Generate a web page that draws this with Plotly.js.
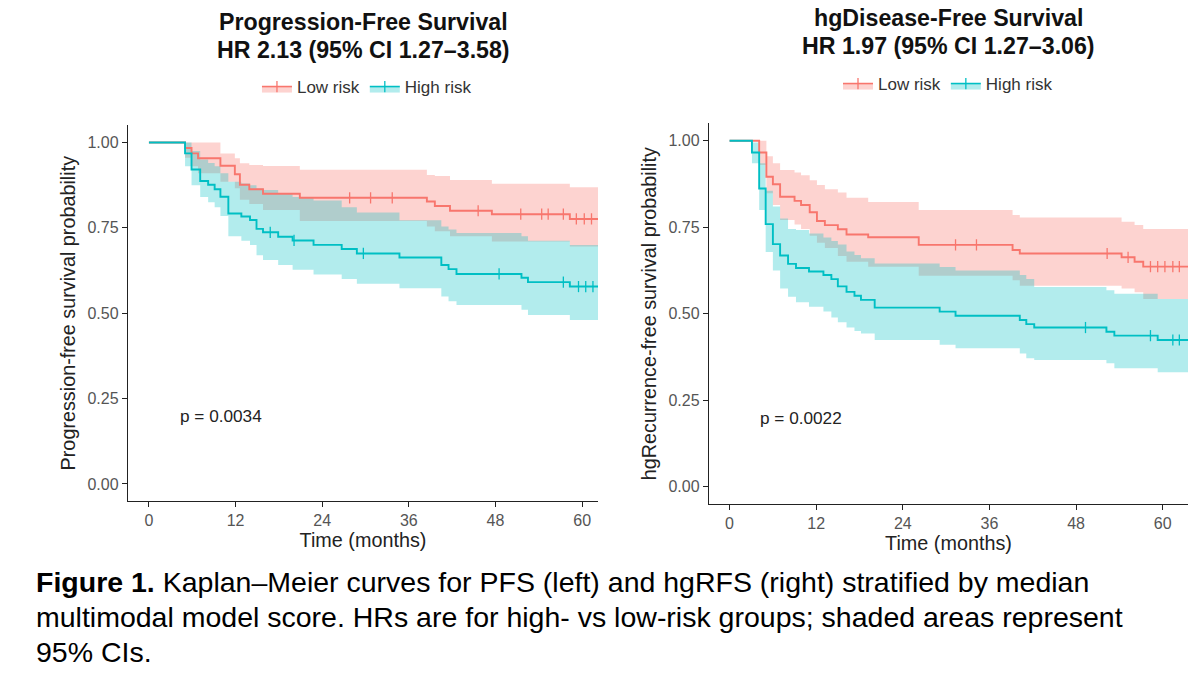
<!DOCTYPE html>
<html>
<head>
<meta charset="utf-8">
<script src="https://cdn.plot.ly/plotly-3.0.1.min.js"></script>
<style>
  html, body { margin: 0; padding: 0; background: #ffffff; }
  #chart { width: 1200px; height: 676px; }
</style>
</head>
<body>
<div id="chart"></div>
<script>
// Shared axis ticks
const monthTicks = [0, 12, 24, 36, 48, 60];
const probTicks = [0, 0.25, 0.5, 0.75, 1];

// Progression-free survival, Low risk group
const pfsLowTime  = [0, 5.0, 5.9, 6.8, 9.9, 11.9, 12.6, 13.9, 15.8, 20.9, 38.5, 39.6, 41.7, 47.5, 58.3];
const pfsLowSurv  = [1, 0.984, 0.968, 0.954, 0.932, 0.907, 0.876, 0.863, 0.850, 0.838, 0.827, 0.814, 0.800, 0.790, 0.776];
const pfsLowUpper = [1, 1, 1, 1, 0.968, 0.954, 0.939, 0.934, 0.931, 0.920, 0.905, 0.902, 0.890, 0.879, 0.869];
const pfsLowLower = [1, 0.955, 0.93, 0.91, 0.885, 0.866, 0.832, 0.82, 0.802, 0.770, 0.754, 0.740, 0.725, 0.710, 0.695];
const pfsLowCensor = [27.8, 30.7, 33.7, 45.6, 51.5, 54.4, 55.3, 57.4, 59.2, 60.3, 61.3];
const pfsLowFollowUp = 62.4;

// Progression-free survival, High risk group
const pfsHighTime  = [0, 5.0, 5.9, 7.1, 8.2, 9.1, 9.9, 11.0, 12.8, 14.0, 14.9, 15.8, 17.9, 19.9, 22.8, 26.7, 28.8, 34.7, 40.5, 41.5, 42.6, 51.6, 52.5, 58.3];
const pfsHighSurv  = [1, 0.968, 0.921, 0.887, 0.876, 0.863, 0.841, 0.792, 0.783, 0.773, 0.747, 0.737, 0.724, 0.713, 0.700, 0.688, 0.675, 0.663, 0.641, 0.629, 0.615, 0.604, 0.591, 0.578];
const pfsHighUpper = [1, 1, 0.975, 0.95, 0.94, 0.93, 0.91, 0.885, 0.88, 0.875, 0.865, 0.861, 0.85, 0.84, 0.83, 0.81, 0.795, 0.772, 0.754, 0.745, 0.735, 0.725, 0.712, 0.700];
const pfsHighLower = [1, 0.93, 0.875, 0.84, 0.825, 0.81, 0.785, 0.725, 0.712, 0.70, 0.67, 0.656, 0.641, 0.627, 0.613, 0.600, 0.586, 0.573, 0.549, 0.535, 0.524, 0.510, 0.495, 0.480];
const pfsHighCensor = [16.8, 20.1, 29.7, 48.5, 57.4, 59.5, 60.5, 61.5];
const pfsHighFollowUp = 62.4;

// hg recurrence-free survival, Low risk group
const rfsLowTime  = [0, 4.1, 5.1, 6.0, 7.0, 9.0, 9.9, 11.1, 12.1, 13.2, 15.0, 16.2, 19.2, 26.2, 39.2, 40.2, 54.3, 56.1, 57.3];
const rfsLowSurv  = [1, 0.966, 0.896, 0.874, 0.838, 0.826, 0.814, 0.793, 0.768, 0.756, 0.744, 0.729, 0.721, 0.699, 0.684, 0.674, 0.663, 0.650, 0.636];
const rfsLowUpper = [1, 1, 0.955, 0.935, 0.915, 0.908, 0.900, 0.886, 0.872, 0.860, 0.850, 0.835, 0.823, 0.800, 0.785, 0.778, 0.766, 0.756, 0.745];
const rfsLowLower = [1, 0.93, 0.848, 0.814, 0.771, 0.758, 0.745, 0.725, 0.705, 0.69, 0.667, 0.650, 0.636, 0.610, 0.597, 0.581, 0.573, 0.562, 0.5425];
const rfsLowCensor = [31.3, 34.2, 52.3, 55.2, 58.3, 59.3, 60.3, 61.4, 62.3];
const rfsLowFollowUp = 63.5;

// hg recurrence-free survival, High risk group
const rfsHighTime  = [0, 3.1, 4.1, 5.0, 6.0, 7.0, 8.1, 9.2, 11.0, 13.0, 14.1, 15.0, 16.2, 17.3, 18.2, 20.1, 29.1, 31.3, 40.2, 41.1, 42.2, 52.2, 53.3, 59.3];
const rfsHighSurv  = [1, 0.966, 0.862, 0.759, 0.701, 0.668, 0.644, 0.632, 0.622, 0.612, 0.600, 0.579, 0.563, 0.552, 0.540, 0.5175, 0.506, 0.494, 0.482, 0.470, 0.460, 0.448, 0.4365, 0.424];
const rfsHighUpper = [1, 0.995, 0.935, 0.855, 0.81, 0.775, 0.745, 0.742, 0.732, 0.72, 0.71, 0.70, 0.68, 0.67, 0.66, 0.645, 0.635, 0.625, 0.612, 0.60, 0.5775, 0.568, 0.558, 0.5425];
const rfsHighLower = [1, 0.935, 0.80, 0.678, 0.625, 0.573, 0.549, 0.533, 0.52, 0.506, 0.489, 0.475, 0.46, 0.45, 0.443, 0.424, 0.41, 0.40, 0.385, 0.371, 0.366, 0.357, 0.342, 0.331];
const rfsHighCensor = [49.3, 58.3, 61.4, 62.3];
const rfsHighFollowUp = 63.5;

// Group labels, panel titles and test results
const groupNames = ['Low risk', 'High risk'];
const panelTitles = [
  ['Progression-Free Survival', 'HR 2.13 (95% CI 1.27\u20133.58)'],
  ['hgDisease-Free Survival', 'HR 1.97 (95% CI 1.27\u20133.06)']
];
const yTitles = ['Progression-free survival probability', 'hgRecurrence-free survival probability'];
const pValues = ['p = 0.0034', 'p = 0.0022'];
const captionLines = [
  '<b>Figure 1.</b> Kaplan\u2013Meier curves for PFS (left) and hgRFS (right) stratified by median',
  'multimodal model score. HRs are for high- vs low-risk groups; shaded areas represent',
  '95% CIs.'
];

const RED = '#F8766D', TEAL = '#00BFC4';
const RED_FILL = 'rgba(248,118,109,0.32)', TEAL_FILL = 'rgba(0,191,196,0.30)';
const FONT = 'Liberation Sans, Arial, Helvetica, sans-serif';

// Expand a right-continuous step function into polyline vertices
function stepPoints(times, vals, end) {
  const xs = [], ys = [];
  for (let i = 0; i < times.length; i++) {
    if (i > 0) { xs.push(times[i]); ys.push(vals[i - 1]); }
    xs.push(times[i]); ys.push(vals[i]);
  }
  xs.push(end); ys.push(vals[vals.length - 1]);
  return { xs, ys };
}
function stepValueAt(times, vals, t) {
  let k = 0;
  for (let i = 0; i < times.length; i++) if (times[i] <= t) k = i;
  return vals[k];
}

function groupTraces(g, color, fill, xa, ya) {
  const up = stepPoints(g.time, g.upper, g.end);
  const lo = stepPoints(g.time, g.lower, g.end);
  const band = {
    type: 'scatter', mode: 'lines', xaxis: xa, yaxis: ya,
    x: up.xs.concat(lo.xs.slice().reverse()),
    y: up.ys.concat(lo.ys.slice().reverse()),
    fill: 'toself', fillcolor: fill, line: { width: 0 },
    hoverinfo: 'skip', showlegend: false
  };
  const curve = {
    type: 'scatter', mode: 'lines', xaxis: xa, yaxis: ya,
    x: g.time.concat([g.end]), y: g.surv.concat([g.surv[g.surv.length - 1]]),
    line: { color: color, width: 1.9, shape: 'hv' }, showlegend: false
  };
  const censor = {
    type: 'scatter', mode: 'markers', xaxis: xa, yaxis: ya,
    x: g.censor, y: g.censor.map(t => stepValueAt(g.time, g.surv, t)),
    marker: { symbol: 'line-ns-open', size: 8, color: color, line: { color: color, width: 1.3 } },
    showlegend: false
  };
  return { band, curve, censor };
}

function legendTrace(name, color, fill, legendId, xa, ya) {
  return {
    type: 'scatter', mode: 'lines+markers', xaxis: xa, yaxis: ya,
    x: [null], y: [null], name: name, legend: legendId,
    fill: 'toself', fillcolor: fill,
    line: { color: color, width: 1.6 },
    marker: { symbol: 'line-ns-open', size: 8, color: color, line: { color: color, width: 1.3 } },
    showlegend: true
  };
}

const panels = [
  {
    xa: 'x', ya: 'y', legend: 'legend',
    low: { time: pfsLowTime, surv: pfsLowSurv, upper: pfsLowUpper, lower: pfsLowLower, censor: pfsLowCensor, end: pfsLowFollowUp },
    high: { time: pfsHighTime, surv: pfsHighSurv, upper: pfsHighUpper, lower: pfsHighLower, censor: pfsHighCensor, end: pfsHighFollowUp }
  },
  {
    xa: 'x2', ya: 'y2', legend: 'legend2',
    low: { time: rfsLowTime, surv: rfsLowSurv, upper: rfsLowUpper, lower: rfsLowLower, censor: rfsLowCensor, end: rfsLowFollowUp },
    high: { time: rfsHighTime, surv: rfsHighSurv, upper: rfsHighUpper, lower: rfsHighLower, censor: rfsHighCensor, end: rfsHighFollowUp }
  }
];

const traces = [];
panels.forEach(p => {
  const lo = groupTraces(p.low, RED, RED_FILL, p.xa, p.ya);
  const hi = groupTraces(p.high, TEAL, TEAL_FILL, p.xa, p.ya);
  traces.push(lo.band, hi.band, lo.curve, hi.curve, lo.censor, hi.censor);
  traces.push(legendTrace(groupNames[0], RED, RED_FILL, p.legend, p.xa, p.ya));
  traces.push(legendTrace(groupNames[1], TEAL, TEAL_FILL, p.legend, p.xa, p.ya));
});

function xAxis(domain, range, anchor) {
  return {
    domain: domain, range: range, anchor: anchor,
    tickvals: monthTicks, ticks: 'outside', ticklen: 5, tickwidth: 1.1, tickcolor: '#222',
    showline: true, linecolor: '#222', linewidth: 1.2, showgrid: false, zeroline: false,
    tickfont: { family: FONT, size: 16, color: '#555' },
    title: { text: 'Time (months)', font: { family: FONT, size: 19.8, color: '#222' }, standoff: 2 }
  };
}
function yAxis(domain, anchor, title) {
  return {
    domain: domain, range: [-0.05, 1.05], anchor: anchor,
    tickvals: probTicks, tickformat: '.2f', ticks: 'outside', ticklen: 5, tickwidth: 1.1, tickcolor: '#222',
    showline: true, linecolor: '#222', linewidth: 1.2, showgrid: false, zeroline: false,
    tickfont: { family: FONT, size: 16, color: '#555' },
    title: { text: title, font: { family: FONT, size: 19.8, color: '#222' }, standoff: 6 }
  };
}

const annotations = [];
const titleCenters = [0.3033, 0.79];
const titleTops = [[22, 50], [18, 46]];
panelTitles.forEach((lines, i) => {
  lines.forEach((txt, j) => {
    annotations.push({
      text: '<b>' + txt + '</b>', xref: 'paper', yref: 'paper',
      x: titleCenters[i], y: 1 - titleTops[i][j] / 676, xanchor: 'center', yanchor: 'middle',
      showarrow: false, font: { family: FONT, size: 23.2, color: '#111' }
    });
  });
});
pValues.forEach((txt, i) => {
  annotations.push({
    text: txt, xref: i === 0 ? 'x' : 'x2', yref: i === 0 ? 'y' : 'y2',
    x: 4, y: 0.2, xanchor: 'left', yanchor: 'middle', showarrow: false,
    font: { family: FONT, size: 17.2, color: '#222' }
  });
});
const captionY = [582, 617, 652];
captionLines.forEach((txt, i) => {
  annotations.push({
    text: txt, xref: 'paper', yref: 'paper', x: 34 / 1200, y: 1 - captionY[i] / 676,
    xanchor: 'left', yanchor: 'middle', align: 'left', showarrow: false,
    font: { family: FONT, size: 28.5, color: '#000' }
  });
});

const legendStyle = (x, y) => ({
  x: x, y: y, xanchor: 'center', yanchor: 'middle', orientation: 'h',
  bgcolor: 'rgba(0,0,0,0)', font: { family: FONT, size: 17, color: '#333' },
  itemwidth: 30, tracegroupgap: 0
});

const layout = {
  width: 1200, height: 676, autosize: false,
  margin: { l: 0, r: 0, t: 0, b: 0 },
  paper_bgcolor: '#ffffff', plot_bgcolor: '#ffffff',
  font: { family: FONT },
  xaxis: xAxis([128 / 1200, 598 / 1200], [-2.9, 62.2], 'y'),
  yaxis: yAxis([175 / 676, 550.6 / 676], 'x', yTitles[0]),
  xaxis2: xAxis([709 / 1200, 1188 / 1200], [-2.85, 63.5], 'y2'),
  yaxis2: yAxis([172 / 676, 552.6 / 676], 'x2', yTitles[1]),
  legend: legendStyle(0.3058, 1 - 87 / 676),
  legend2: legendStyle(0.79, 1 - 84 / 676),
  annotations: annotations,
  showlegend: true
};

Plotly.newPlot('chart', traces, layout, { displayModeBar: false, staticPlot: true });
</script>
</body>
</html>
